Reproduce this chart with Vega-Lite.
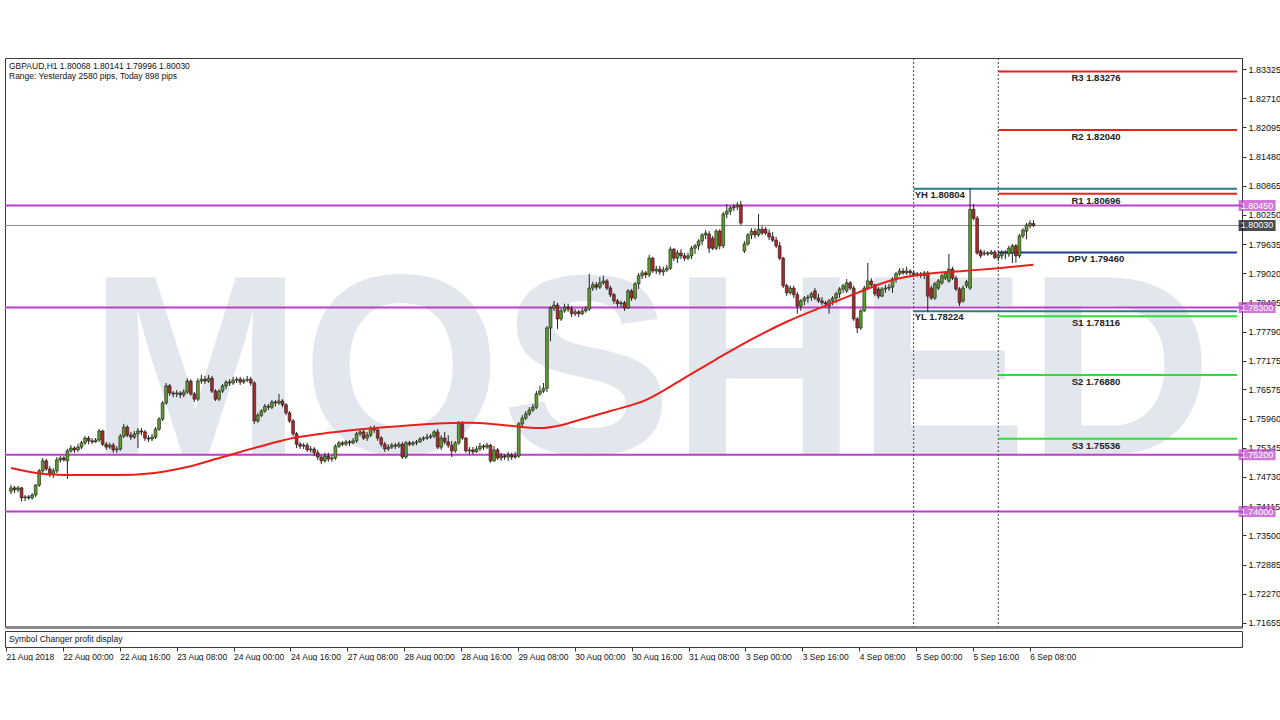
{
"$schema": "https://vega.github.io/schema/vega-lite/v6.json",
"background": "white",
"padding": {"left": 3, "top": 57, "right": 0, "bottom": 0},
"config": {
  "font": "Liberation Sans",
  "view": {"stroke": "#3c3c3c", "strokeWidth": 1},
  "axisX": {"labels": false, "ticks": false, "domainColor": "#8c8c8c", "domainWidth": 3, "grid": false},
  "axisY": {"grid": false, "labelOverlap": false, "labelFontSize": 9, "labelColor": "#111", "tickSize": 4, "tickColor": "#333", "domainColor": "#333", "labelPadding": 2, "labelBound": false, "labelFlush": false}
},
"spacing": 1,
"datasets": {
  "candles": [
{"i":0,"o":1.7443,"h":1.7456,"l":1.7437,"c":1.7450},
{"i":1,"o":1.7450,"h":1.7454,"l":1.7439,"c":1.7446},
{"i":2,"o":1.7446,"h":1.7454,"l":1.7441,"c":1.7450},
{"i":3,"o":1.7450,"h":1.7452,"l":1.7422,"c":1.7429},
{"i":4,"o":1.7429,"h":1.7435,"l":1.7422,"c":1.7431},
{"i":5,"o":1.7431,"h":1.7435,"l":1.7425,"c":1.7429},
{"i":6,"o":1.7429,"h":1.7439,"l":1.7425,"c":1.7435},
{"i":7,"o":1.7435,"h":1.7458,"l":1.7431,"c":1.7456},
{"i":8,"o":1.7456,"h":1.7490,"l":1.7452,"c":1.7486},
{"i":9,"o":1.7486,"h":1.7513,"l":1.7481,"c":1.7507},
{"i":10,"o":1.7507,"h":1.7511,"l":1.7486,"c":1.7490},
{"i":11,"o":1.7490,"h":1.7496,"l":1.7473,"c":1.7479},
{"i":12,"o":1.7479,"h":1.7492,"l":1.7471,"c":1.7486},
{"i":13,"o":1.7486,"h":1.7515,"l":1.7481,"c":1.7509},
{"i":14,"o":1.7509,"h":1.7517,"l":1.7503,"c":1.7513},
{"i":15,"o":1.7513,"h":1.7517,"l":1.7505,"c":1.7509},
{"i":16,"o":1.7507,"h":1.7532,"l":1.7469,"c":1.7528},
{"i":17,"o":1.7528,"h":1.7540,"l":1.7524,"c":1.7534},
{"i":18,"o":1.7534,"h":1.7538,"l":1.7524,"c":1.7530},
{"i":19,"o":1.7530,"h":1.7542,"l":1.7526,"c":1.7536},
{"i":20,"o":1.7536,"h":1.7549,"l":1.7532,"c":1.7545},
{"i":21,"o":1.7545,"h":1.7559,"l":1.7540,"c":1.7555},
{"i":22,"o":1.7555,"h":1.7559,"l":1.7542,"c":1.7549},
{"i":23,"o":1.7549,"h":1.7555,"l":1.7542,"c":1.7547},
{"i":24,"o":1.7547,"h":1.7555,"l":1.7545,"c":1.7551},
{"i":25,"o":1.7551,"h":1.7574,"l":1.7547,"c":1.7570},
{"i":26,"o":1.7570,"h":1.7572,"l":1.7538,"c":1.7542},
{"i":27,"o":1.7542,"h":1.7547,"l":1.7530,"c":1.7536},
{"i":28,"o":1.7536,"h":1.7545,"l":1.7532,"c":1.7540},
{"i":29,"o":1.7540,"h":1.7545,"l":1.7524,"c":1.7530},
{"i":30,"o":1.7530,"h":1.7538,"l":1.7524,"c":1.7532},
{"i":31,"o":1.7532,"h":1.7564,"l":1.7528,"c":1.7559},
{"i":32,"o":1.7559,"h":1.7585,"l":1.7555,"c":1.7578},
{"i":33,"o":1.7578,"h":1.7582,"l":1.7557,"c":1.7561},
{"i":34,"o":1.7561,"h":1.7568,"l":1.7551,"c":1.7557},
{"i":35,"o":1.7557,"h":1.7570,"l":1.7553,"c":1.7564},
{"i":36,"o":1.7564,"h":1.7576,"l":1.7534,"c":1.7570},
{"i":37,"o":1.7570,"h":1.7576,"l":1.7561,"c":1.7568},
{"i":38,"o":1.7568,"h":1.7572,"l":1.7549,"c":1.7555},
{"i":39,"o":1.7555,"h":1.7561,"l":1.7547,"c":1.7553},
{"i":40,"o":1.7553,"h":1.7564,"l":1.7549,"c":1.7557},
{"i":41,"o":1.7557,"h":1.7578,"l":1.7553,"c":1.7574},
{"i":42,"o":1.7574,"h":1.7599,"l":1.7570,"c":1.7595},
{"i":43,"o":1.7595,"h":1.7633,"l":1.7591,"c":1.7629},
{"i":44,"o":1.7629,"h":1.7671,"l":1.7625,"c":1.7665},
{"i":45,"o":1.7665,"h":1.7669,"l":1.7644,"c":1.7650},
{"i":46,"o":1.7650,"h":1.7654,"l":1.7641,"c":1.7648},
{"i":47,"o":1.7648,"h":1.7656,"l":1.7641,"c":1.7650},
{"i":48,"o":1.7650,"h":1.7654,"l":1.7639,"c":1.7646},
{"i":49,"o":1.7646,"h":1.7658,"l":1.7641,"c":1.7652},
{"i":50,"o":1.7652,"h":1.7681,"l":1.7648,"c":1.7675},
{"i":51,"o":1.7675,"h":1.7679,"l":1.7644,"c":1.7648},
{"i":52,"o":1.7648,"h":1.7652,"l":1.7631,"c":1.7637},
{"i":53,"o":1.7637,"h":1.7681,"l":1.7633,"c":1.7675},
{"i":54,"o":1.7675,"h":1.7688,"l":1.7669,"c":1.7679},
{"i":55,"o":1.7679,"h":1.7686,"l":1.7669,"c":1.7675},
{"i":56,"o":1.7675,"h":1.7688,"l":1.7671,"c":1.7681},
{"i":57,"o":1.7681,"h":1.7686,"l":1.7650,"c":1.7654},
{"i":58,"o":1.7654,"h":1.7658,"l":1.7633,"c":1.7637},
{"i":59,"o":1.7637,"h":1.7658,"l":1.7633,"c":1.7654},
{"i":60,"o":1.7654,"h":1.7669,"l":1.7650,"c":1.7665},
{"i":61,"o":1.7665,"h":1.7677,"l":1.7658,"c":1.7673},
{"i":62,"o":1.7673,"h":1.7679,"l":1.7665,"c":1.7671},
{"i":63,"o":1.7671,"h":1.7684,"l":1.7667,"c":1.7677},
{"i":64,"o":1.7677,"h":1.7684,"l":1.7671,"c":1.7679},
{"i":65,"o":1.7679,"h":1.7684,"l":1.7667,"c":1.7673},
{"i":66,"o":1.7673,"h":1.7681,"l":1.7669,"c":1.7677},
{"i":67,"o":1.7677,"h":1.7686,"l":1.7673,"c":1.7679},
{"i":68,"o":1.7679,"h":1.7684,"l":1.7665,"c":1.7671},
{"i":69,"o":1.7671,"h":1.7675,"l":1.7585,"c":1.7591},
{"i":70,"o":1.7591,"h":1.7608,"l":1.7587,"c":1.7603},
{"i":71,"o":1.7603,"h":1.7616,"l":1.7599,"c":1.7612},
{"i":72,"o":1.7612,"h":1.7627,"l":1.7608,"c":1.7622},
{"i":73,"o":1.7622,"h":1.7627,"l":1.7614,"c":1.7620},
{"i":74,"o":1.7620,"h":1.7635,"l":1.7616,"c":1.7631},
{"i":75,"o":1.7631,"h":1.7635,"l":1.7622,"c":1.7629},
{"i":76,"o":1.7629,"h":1.7648,"l":1.7625,"c":1.7633},
{"i":77,"o":1.7633,"h":1.7637,"l":1.7620,"c":1.7625},
{"i":78,"o":1.7625,"h":1.7629,"l":1.7603,"c":1.7608},
{"i":79,"o":1.7608,"h":1.7612,"l":1.7587,"c":1.7591},
{"i":80,"o":1.7591,"h":1.7595,"l":1.7559,"c":1.7564},
{"i":81,"o":1.7564,"h":1.7568,"l":1.7534,"c":1.7542},
{"i":82,"o":1.7542,"h":1.7547,"l":1.7532,"c":1.7538},
{"i":83,"o":1.7538,"h":1.7545,"l":1.7532,"c":1.7540},
{"i":84,"o":1.7540,"h":1.7545,"l":1.7526,"c":1.7530},
{"i":85,"o":1.7530,"h":1.7538,"l":1.7524,"c":1.7532},
{"i":86,"o":1.7532,"h":1.7536,"l":1.7517,"c":1.7524},
{"i":87,"o":1.7524,"h":1.7530,"l":1.7509,"c":1.7515},
{"i":88,"o":1.7515,"h":1.7519,"l":1.7500,"c":1.7507},
{"i":89,"o":1.7507,"h":1.7524,"l":1.7503,"c":1.7517},
{"i":90,"o":1.7517,"h":1.7524,"l":1.7505,"c":1.7511},
{"i":91,"o":1.7511,"h":1.7519,"l":1.7505,"c":1.7513},
{"i":92,"o":1.7513,"h":1.7542,"l":1.7509,"c":1.7538},
{"i":93,"o":1.7538,"h":1.7549,"l":1.7534,"c":1.7545},
{"i":94,"o":1.7545,"h":1.7549,"l":1.7538,"c":1.7542},
{"i":95,"o":1.7542,"h":1.7551,"l":1.7538,"c":1.7547},
{"i":96,"o":1.7547,"h":1.7551,"l":1.7538,"c":1.7545},
{"i":97,"o":1.7545,"h":1.7555,"l":1.7542,"c":1.7549},
{"i":98,"o":1.7549,"h":1.7568,"l":1.7545,"c":1.7564},
{"i":99,"o":1.7564,"h":1.7572,"l":1.7559,"c":1.7568},
{"i":100,"o":1.7568,"h":1.7572,"l":1.7551,"c":1.7555},
{"i":101,"o":1.7555,"h":1.7568,"l":1.7549,"c":1.7561},
{"i":102,"o":1.7561,"h":1.7580,"l":1.7557,"c":1.7576},
{"i":103,"o":1.7576,"h":1.7582,"l":1.7566,"c":1.7572},
{"i":104,"o":1.7572,"h":1.7578,"l":1.7549,"c":1.7555},
{"i":105,"o":1.7555,"h":1.7559,"l":1.7536,"c":1.7542},
{"i":106,"o":1.7542,"h":1.7547,"l":1.7526,"c":1.7532},
{"i":107,"o":1.7532,"h":1.7542,"l":1.7528,"c":1.7536},
{"i":108,"o":1.7536,"h":1.7545,"l":1.7532,"c":1.7540},
{"i":109,"o":1.7540,"h":1.7545,"l":1.7532,"c":1.7538},
{"i":110,"o":1.7538,"h":1.7547,"l":1.7534,"c":1.7542},
{"i":111,"o":1.7542,"h":1.7547,"l":1.7511,"c":1.7515},
{"i":112,"o":1.7515,"h":1.7549,"l":1.7511,"c":1.7545},
{"i":113,"o":1.7545,"h":1.7549,"l":1.7538,"c":1.7542},
{"i":114,"o":1.7542,"h":1.7549,"l":1.7538,"c":1.7545},
{"i":115,"o":1.7545,"h":1.7551,"l":1.7540,"c":1.7547},
{"i":116,"o":1.7547,"h":1.7557,"l":1.7545,"c":1.7553},
{"i":117,"o":1.7553,"h":1.7559,"l":1.7549,"c":1.7555},
{"i":118,"o":1.7555,"h":1.7564,"l":1.7551,"c":1.7557},
{"i":119,"o":1.7557,"h":1.7564,"l":1.7553,"c":1.7559},
{"i":120,"o":1.7559,"h":1.7572,"l":1.7555,"c":1.7568},
{"i":121,"o":1.7568,"h":1.7574,"l":1.7532,"c":1.7536},
{"i":122,"o":1.7536,"h":1.7561,"l":1.7530,"c":1.7555},
{"i":123,"o":1.7555,"h":1.7568,"l":1.7542,"c":1.7547},
{"i":124,"o":1.7547,"h":1.7561,"l":1.7534,"c":1.7540},
{"i":125,"o":1.7540,"h":1.7549,"l":1.7515,"c":1.7528},
{"i":126,"o":1.7528,"h":1.7549,"l":1.7524,"c":1.7545},
{"i":127,"o":1.7545,"h":1.7591,"l":1.7540,"c":1.7587},
{"i":128,"o":1.7587,"h":1.7591,"l":1.7551,"c":1.7555},
{"i":129,"o":1.7555,"h":1.7557,"l":1.7524,"c":1.7528},
{"i":130,"o":1.7528,"h":1.7536,"l":1.7521,"c":1.7530},
{"i":131,"o":1.7530,"h":1.7536,"l":1.7521,"c":1.7526},
{"i":132,"o":1.7526,"h":1.7538,"l":1.7524,"c":1.7532},
{"i":133,"o":1.7532,"h":1.7545,"l":1.7528,"c":1.7538},
{"i":134,"o":1.7538,"h":1.7542,"l":1.7530,"c":1.7536},
{"i":135,"o":1.7536,"h":1.7545,"l":1.7532,"c":1.7540},
{"i":136,"o":1.7540,"h":1.7542,"l":1.7503,"c":1.7507},
{"i":137,"o":1.7507,"h":1.7538,"l":1.7505,"c":1.7530},
{"i":138,"o":1.7530,"h":1.7534,"l":1.7509,"c":1.7513},
{"i":139,"o":1.7513,"h":1.7524,"l":1.7507,"c":1.7517},
{"i":140,"o":1.7517,"h":1.7521,"l":1.7509,"c":1.7515},
{"i":141,"o":1.7515,"h":1.7526,"l":1.7507,"c":1.7519},
{"i":142,"o":1.7519,"h":1.7524,"l":1.7509,"c":1.7515},
{"i":143,"o":1.7515,"h":1.7526,"l":1.7511,"c":1.7517},
{"i":144,"o":1.7517,"h":1.7589,"l":1.7513,"c":1.7585},
{"i":145,"o":1.7585,"h":1.7603,"l":1.7580,"c":1.7597},
{"i":146,"o":1.7597,"h":1.7612,"l":1.7593,"c":1.7606},
{"i":147,"o":1.7606,"h":1.7620,"l":1.7601,"c":1.7614},
{"i":148,"o":1.7614,"h":1.7627,"l":1.7610,"c":1.7620},
{"i":149,"o":1.7620,"h":1.7654,"l":1.7616,"c":1.7648},
{"i":150,"o":1.7648,"h":1.7665,"l":1.7644,"c":1.7654},
{"i":151,"o":1.7654,"h":1.7671,"l":1.7650,"c":1.7660},
{"i":152,"o":1.7660,"h":1.7791,"l":1.7652,"c":1.7787},
{"i":153,"o":1.7787,"h":1.7833,"l":1.7759,"c":1.7829},
{"i":154,"o":1.7829,"h":1.7844,"l":1.7823,"c":1.7835},
{"i":155,"o":1.7835,"h":1.7840,"l":1.7785,"c":1.7806},
{"i":156,"o":1.7806,"h":1.7829,"l":1.7802,"c":1.7823},
{"i":157,"o":1.7823,"h":1.7838,"l":1.7819,"c":1.7831},
{"i":158,"o":1.7831,"h":1.7838,"l":1.7821,"c":1.7827},
{"i":159,"o":1.7827,"h":1.7833,"l":1.7810,"c":1.7817},
{"i":160,"o":1.7817,"h":1.7827,"l":1.7812,"c":1.7821},
{"i":161,"o":1.7821,"h":1.7825,"l":1.7810,"c":1.7817},
{"i":162,"o":1.7817,"h":1.7829,"l":1.7814,"c":1.7823},
{"i":163,"o":1.7823,"h":1.7833,"l":1.7819,"c":1.7827},
{"i":164,"o":1.7827,"h":1.7901,"l":1.7823,"c":1.7871},
{"i":165,"o":1.7871,"h":1.7884,"l":1.7865,"c":1.7878},
{"i":166,"o":1.7878,"h":1.7884,"l":1.7867,"c":1.7873},
{"i":167,"o":1.7873,"h":1.7894,"l":1.7869,"c":1.7882},
{"i":168,"o":1.7882,"h":1.7897,"l":1.7878,"c":1.7886},
{"i":169,"o":1.7886,"h":1.7890,"l":1.7867,"c":1.7871},
{"i":170,"o":1.7871,"h":1.7876,"l":1.7852,"c":1.7857},
{"i":171,"o":1.7857,"h":1.7861,"l":1.7838,"c":1.7844},
{"i":172,"o":1.7844,"h":1.7848,"l":1.7831,"c":1.7838},
{"i":173,"o":1.7838,"h":1.7844,"l":1.7831,"c":1.7840},
{"i":174,"o":1.7840,"h":1.7844,"l":1.7823,"c":1.7829},
{"i":175,"o":1.7829,"h":1.7869,"l":1.7827,"c":1.7865},
{"i":176,"o":1.7865,"h":1.7869,"l":1.7844,"c":1.7850},
{"i":177,"o":1.7850,"h":1.7884,"l":1.7846,"c":1.7880},
{"i":178,"o":1.7880,"h":1.7903,"l":1.7869,"c":1.7897},
{"i":179,"o":1.7897,"h":1.7909,"l":1.7890,"c":1.7903},
{"i":180,"o":1.7903,"h":1.7907,"l":1.7892,"c":1.7899},
{"i":181,"o":1.7899,"h":1.7941,"l":1.7894,"c":1.7934},
{"i":182,"o":1.7934,"h":1.7937,"l":1.7903,"c":1.7907},
{"i":183,"o":1.7907,"h":1.7918,"l":1.7901,"c":1.7911},
{"i":184,"o":1.7911,"h":1.7918,"l":1.7899,"c":1.7905},
{"i":185,"o":1.7905,"h":1.7916,"l":1.7897,"c":1.7909},
{"i":186,"o":1.7909,"h":1.7920,"l":1.7905,"c":1.7913},
{"i":187,"o":1.7913,"h":1.7958,"l":1.7909,"c":1.7953},
{"i":188,"o":1.7953,"h":1.7955,"l":1.7928,"c":1.7934},
{"i":189,"o":1.7934,"h":1.7951,"l":1.7924,"c":1.7945},
{"i":190,"o":1.7945,"h":1.7953,"l":1.7932,"c":1.7939},
{"i":191,"o":1.7939,"h":1.7945,"l":1.7928,"c":1.7934},
{"i":192,"o":1.7934,"h":1.7945,"l":1.7930,"c":1.7939},
{"i":193,"o":1.7939,"h":1.7960,"l":1.7932,"c":1.7955},
{"i":194,"o":1.7955,"h":1.7964,"l":1.7943,"c":1.7960},
{"i":195,"o":1.7960,"h":1.7974,"l":1.7951,"c":1.7970},
{"i":196,"o":1.7970,"h":1.7987,"l":1.7962,"c":1.7983},
{"i":197,"o":1.7983,"h":1.7993,"l":1.7974,"c":1.7987},
{"i":198,"o":1.7985,"h":1.7991,"l":1.7945,"c":1.7955},
{"i":199,"o":1.7976,"h":1.7981,"l":1.7951,"c":1.7955},
{"i":200,"o":1.7955,"h":1.7995,"l":1.7951,"c":1.7991},
{"i":201,"o":1.7991,"h":1.7995,"l":1.7953,"c":1.7960},
{"i":202,"o":1.7960,"h":1.8031,"l":1.7955,"c":1.8027},
{"i":203,"o":1.8027,"h":1.8048,"l":1.8018,"c":1.8033},
{"i":204,"o":1.8033,"h":1.8044,"l":1.8025,"c":1.8040},
{"i":205,"o":1.8040,"h":1.8048,"l":1.8033,"c":1.8042},
{"i":206,"o":1.8042,"h":1.8052,"l":1.8035,"c":1.8046},
{"i":207,"o":1.8046,"h":1.8055,"l":1.8004,"c":1.8008},
{"i":208,"o":1.7949,"h":1.7970,"l":1.7945,"c":1.7964},
{"i":209,"o":1.7964,"h":1.7987,"l":1.7960,"c":1.7983},
{"i":210,"o":1.7983,"h":1.7997,"l":1.7974,"c":1.7991},
{"i":211,"o":1.7991,"h":1.7997,"l":1.7976,"c":1.7983},
{"i":212,"o":1.7983,"h":1.8027,"l":1.7979,"c":1.7995},
{"i":213,"o":1.7995,"h":1.8002,"l":1.7983,"c":1.7987},
{"i":214,"o":1.7995,"h":1.8000,"l":1.7983,"c":1.7987},
{"i":215,"o":1.7987,"h":1.7995,"l":1.7972,"c":1.7979},
{"i":216,"o":1.7979,"h":1.7989,"l":1.7968,"c":1.7972},
{"i":217,"o":1.7972,"h":1.7979,"l":1.7955,"c":1.7960},
{"i":218,"o":1.7960,"h":1.7968,"l":1.7930,"c":1.7934},
{"i":219,"o":1.7934,"h":1.7937,"l":1.7871,"c":1.7876},
{"i":220,"o":1.7876,"h":1.7880,"l":1.7854,"c":1.7861},
{"i":221,"o":1.7861,"h":1.7876,"l":1.7857,"c":1.7871},
{"i":222,"o":1.7871,"h":1.7876,"l":1.7850,"c":1.7857},
{"i":223,"o":1.7857,"h":1.7863,"l":1.7817,"c":1.7833},
{"i":224,"o":1.7833,"h":1.7848,"l":1.7823,"c":1.7844},
{"i":225,"o":1.7844,"h":1.7854,"l":1.7835,"c":1.7850},
{"i":226,"o":1.7850,"h":1.7857,"l":1.7840,"c":1.7852},
{"i":227,"o":1.7852,"h":1.7863,"l":1.7844,"c":1.7859},
{"i":228,"o":1.7865,"h":1.7871,"l":1.7846,"c":1.7850},
{"i":229,"o":1.7850,"h":1.7859,"l":1.7840,"c":1.7844},
{"i":230,"o":1.7844,"h":1.7852,"l":1.7835,"c":1.7840},
{"i":231,"o":1.7840,"h":1.7844,"l":1.7831,"c":1.7838},
{"i":232,"o":1.7833,"h":1.7848,"l":1.7817,"c":1.7844},
{"i":233,"o":1.7844,"h":1.7854,"l":1.7835,"c":1.7850},
{"i":234,"o":1.7850,"h":1.7863,"l":1.7840,"c":1.7859},
{"i":235,"o":1.7859,"h":1.7873,"l":1.7850,"c":1.7869},
{"i":236,"o":1.7869,"h":1.7880,"l":1.7861,"c":1.7876},
{"i":237,"o":1.7865,"h":1.7890,"l":1.7861,"c":1.7882},
{"i":238,"o":1.7882,"h":1.7886,"l":1.7867,"c":1.7871},
{"i":239,"o":1.7871,"h":1.7876,"l":1.7802,"c":1.7806},
{"i":240,"o":1.7806,"h":1.7810,"l":1.7776,"c":1.7787},
{"i":241,"o":1.7787,"h":1.7827,"l":1.7783,"c":1.7823},
{"i":242,"o":1.7823,"h":1.7876,"l":1.7821,"c":1.7871},
{"i":243,"o":1.7871,"h":1.7924,"l":1.7867,"c":1.7886},
{"i":244,"o":1.7886,"h":1.7892,"l":1.7871,"c":1.7878},
{"i":245,"o":1.7878,"h":1.7880,"l":1.7854,"c":1.7859},
{"i":246,"o":1.7869,"h":1.7873,"l":1.7848,"c":1.7854},
{"i":247,"o":1.7854,"h":1.7873,"l":1.7852,"c":1.7869},
{"i":248,"o":1.7869,"h":1.7878,"l":1.7861,"c":1.7871},
{"i":249,"o":1.7871,"h":1.7880,"l":1.7865,"c":1.7873},
{"i":250,"o":1.7873,"h":1.7894,"l":1.7861,"c":1.7890},
{"i":251,"o":1.7890,"h":1.7905,"l":1.7882,"c":1.7901},
{"i":252,"o":1.7901,"h":1.7913,"l":1.7897,"c":1.7907},
{"i":253,"o":1.7907,"h":1.7913,"l":1.7899,"c":1.7903},
{"i":254,"o":1.7903,"h":1.7916,"l":1.7899,"c":1.7907},
{"i":255,"o":1.7907,"h":1.7911,"l":1.7897,"c":1.7903},
{"i":256,"o":1.7903,"h":1.7907,"l":1.7894,"c":1.7899},
{"i":257,"o":1.7899,"h":1.7905,"l":1.7894,"c":1.7901},
{"i":258,"o":1.7901,"h":1.7905,"l":1.7892,"c":1.7897},
{"i":259,"o":1.7897,"h":1.7907,"l":1.7890,"c":1.7903},
{"i":260,"o":1.7903,"h":1.7907,"l":1.78224,"c":1.7854},
{"i":261,"o":1.7871,"h":1.7876,"l":1.7846,"c":1.7850},
{"i":262,"o":1.7850,"h":1.7884,"l":1.7846,"c":1.7880},
{"i":263,"o":1.7871,"h":1.7890,"l":1.7867,"c":1.7886},
{"i":264,"o":1.7882,"h":1.7901,"l":1.7878,"c":1.7897},
{"i":265,"o":1.7892,"h":1.7907,"l":1.7888,"c":1.7903},
{"i":266,"o":1.7886,"h":1.7943,"l":1.7882,"c":1.7911},
{"i":267,"o":1.7911,"h":1.7916,"l":1.7888,"c":1.7892},
{"i":268,"o":1.7892,"h":1.7897,"l":1.7865,"c":1.7869},
{"i":269,"o":1.7869,"h":1.7873,"l":1.7833,"c":1.7840},
{"i":270,"o":1.7844,"h":1.7876,"l":1.7840,"c":1.7871},
{"i":271,"o":1.7876,"h":1.7888,"l":1.7871,"c":1.7884},
{"i":272,"o":1.7871,"h":1.80804,"l":1.7867,"c":1.8037},
{"i":273,"o":1.8037,"h":1.8048,"l":1.8014,"c":1.8018},
{"i":274,"o":1.8018,"h":1.8023,"l":1.7941,"c":1.7945},
{"i":275,"o":1.7949,"h":1.7953,"l":1.7934,"c":1.7939},
{"i":276,"o":1.7943,"h":1.7951,"l":1.7939,"c":1.7945},
{"i":277,"o":1.7945,"h":1.7949,"l":1.7939,"c":1.7943},
{"i":278,"o":1.7943,"h":1.7951,"l":1.7941,"c":1.7947},
{"i":279,"o":1.7947,"h":1.7951,"l":1.7932,"c":1.7935},
{"i":280,"o":1.7935,"h":1.7949,"l":1.7928,"c":1.7941},
{"i":281,"o":1.7939,"h":1.7951,"l":1.7932,"c":1.7945},
{"i":282,"o":1.7945,"h":1.7951,"l":1.7932,"c":1.7947},
{"i":283,"o":1.7943,"h":1.7960,"l":1.7937,"c":1.7955},
{"i":284,"o":1.7945,"h":1.7964,"l":1.7924,"c":1.7960},
{"i":285,"o":1.7960,"h":1.7964,"l":1.79243,"c":1.7939},
{"i":286,"o":1.7939,"h":1.7985,"l":1.7934,"c":1.7981},
{"i":287,"o":1.7981,"h":1.7997,"l":1.7976,"c":1.7993},
{"i":288,"o":1.7991,"h":1.8008,"l":1.7974,"c":1.8004},
{"i":289,"o":1.8002,"h":1.8014,"l":1.7997,"c":1.8008},
{"i":290,"o":1.80068,"h":1.80141,"l":1.79996,"c":1.80030}
  ],
  "ma": [
{"i":0,"v":1.7492},{"i":10,"v":1.7479},{"i":20,"v":1.7477},{"i":30,"v":1.7477},{"i":40,"v":1.7481},
{"i":50,"v":1.7494},{"i":60,"v":1.7515},{"i":70,"v":1.7536},{"i":80,"v":1.7555},{"i":90,"v":1.7566},
{"i":100,"v":1.7574},{"i":110,"v":1.7580},{"i":120,"v":1.7585},{"i":130,"v":1.7587},{"i":140,"v":1.7582},
{"i":150,"v":1.7576},{"i":156,"v":1.7582},{"i":162,"v":1.7595},{"i":170,"v":1.7612},{"i":180,"v":1.7635},
{"i":190,"v":1.7677},{"i":200,"v":1.7721},{"i":210,"v":1.7763},{"i":220,"v":1.7800},{"i":230,"v":1.7831},
{"i":240,"v":1.7861},{"i":250,"v":1.7888},{"i":260,"v":1.7901},{"i":270,"v":1.7907},{"i":280,"v":1.7913},
{"i":290,"v":1.7920}
  ],
  "levels": [
{"level":1.8045,"kind":"line"},
{"level":1.783,"kind":"line"},
{"level":1.752,"kind":"line"},
{"level":1.74,"kind":"line"},
{"level":1.8003,"kind":"bid"}
  ],
  "pivots": [
{"name":"R3","level":1.83276,"from":280,"kind":"R","label":"R3 1.83276"},
{"name":"R2","level":1.8204,"from":280,"kind":"R","label":"R2 1.82040"},
{"name":"R1","level":1.80696,"from":280,"kind":"R","label":"R1 1.80696"},
{"name":"DPV","level":1.7946,"from":280,"kind":"P","label":"DPV 1.79460"},
{"name":"S1","level":1.78116,"from":280,"kind":"S","label":"S1 1.78116"},
{"name":"S2","level":1.7688,"from":280,"kind":"S","label":"S2 1.76880"},
{"name":"S3","level":1.75536,"from":280,"kind":"S","label":"S3 1.75536"},
{"name":"YH","level":1.80804,"from":256,"kind":"Y","label":"YH 1.80804"},
{"name":"YL","level":1.78224,"from":256,"kind":"Y","label":"YL 1.78224"}
  ],
  "days": [{"i":256,"day":"5 Sep"},{"i":280,"day":"6 Sep"}]
},
"vconcat": [
  {
    "width": 1237,
    "height": 569,
    "title": {"text": "GBPAUD,H1  1.80068 1.80141 1.79996 1.80030", "subtitle": "Range: Yesterday 2580 pips, Today 898 pips", "anchor": "start", "frame": "group", "orient": "top", "offset": -23, "dx": 4, "font": "Liberation Sans", "fontSize": 8.5, "fontWeight": "normal", "color": "#111", "subtitleFont": "Liberation Sans", "subtitleFontSize": 8.5, "subtitleColor": "#111", "subtitlePadding": 2},
    "resolve": {"scale": {"color": "independent", "strokeWidth": "independent"}},
    "layer": [
      {
        "data": {"values": [{"w": "MOSHED"}]},
        "mark": {"type": "text", "font": "Liberation Sans", "fontWeight": "bold", "fontSize": 256, "color": "#E2E6ED", "align": "center", "baseline": "alphabetic"},
        "encoding": {
          "x": {"datum": 181.4, "type": "quantitative", "scale": {"domain": [-0.28, 347.7], "nice": false, "zero": false}, "title": null},
          "y": {"datum": 1.7522, "type": "quantitative", "scale": {"domain": [1.71569, 1.83558], "nice": false, "zero": false}, "title": null,
                "axis": {"orient": "right", "values": [1.71655, 1.7227, 1.72885, 1.735, 1.74115, 1.7473, 1.75345, 1.7596, 1.76575, 1.77175, 1.7779, 1.78405, 1.7902, 1.79635, 1.8025, 1.80865, 1.8148, 1.82095, 1.8271, 1.83325], "format": ".5f", "title": null, "grid": false, "labelOverlap": false, "tickCount": 40}},
          "text": {"field": "w"}
        }
      },
      {
        "data": {"name": "levels"},
        "mark": {"type": "rule"},
        "encoding": {
          "y": {"field": "level", "type": "quantitative", "title": null, "axis": {"orient": "right", "labelOverlap": false}},
          "color": {"field": "kind", "type": "nominal", "scale": {"domain": ["line", "bid"], "range": ["#BE3FCB", "#8C8C8C"]}, "legend": null},
          "strokeWidth": {"field": "kind", "type": "nominal", "scale": {"domain": ["line", "bid"], "range": [2, 1]}, "legend": null}
        }
      },
      {
        "data": {"name": "days"},
        "mark": {"type": "rule", "color": "#444", "strokeDash": [2, 2], "strokeWidth": 1},
        "encoding": {
          "x": {"field": "i", "type": "quantitative", "title": null}
        }
      },
      {
        "data": {"name": "pivots"},
        "mark": {"type": "rule", "strokeWidth": 2},
        "encoding": {
          "x": {"field": "from", "type": "quantitative", "title": null},
          "x2": {"datum": 347.7},
          "y": {"field": "level", "type": "quantitative", "title": null, "axis": {"orient": "right", "labelOverlap": false}},
          "color": {"field": "kind", "type": "nominal", "scale": {"domain": ["R", "P", "S", "Y"], "range": ["#E8231F", "#1F36A8", "#2EE02E", "#2B7C8C"]}, "legend": null}
        }
      },
      {
        "data": {"name": "candles"},
        "mark": {"type": "rule", "color": "#222", "strokeWidth": 1},
        "encoding": {
          "x": {"field": "i", "type": "quantitative", "title": null},
          "y": {"field": "l", "type": "quantitative", "title": null, "axis": {"orient": "right", "labelOverlap": false}},
          "y2": {"field": "h"}
        }
      },
      {
        "data": {"name": "candles"},
        "mark": {"type": "bar", "width": 2.8, "stroke": "#151515", "strokeWidth": 0.6},
        "encoding": {
          "x": {"field": "i", "type": "quantitative", "title": null},
          "y": {"field": "o", "type": "quantitative", "title": null, "axis": {"orient": "right", "labelOverlap": false}},
          "y2": {"field": "c"},
          "fill": {"condition": {"test": "datum.c >= datum.o", "value": "#5E9E2A"}, "value": "#B3262A"}
        }
      },
      {
        "data": {"name": "ma"},
        "mark": {"type": "line", "color": "#E8201C", "strokeWidth": 2, "interpolate": "monotone"},
        "encoding": {
          "x": {"field": "i", "type": "quantitative", "title": null},
          "y": {"field": "v", "type": "quantitative", "title": null, "axis": {"orient": "right", "labelOverlap": false}}
        }
      },
      {
        "data": {"name": "pivots"},
        "transform": [{"filter": "datum.kind != 'Y'"}],
        "mark": {"type": "text", "fontWeight": "bold", "fontSize": 9.5, "color": "#222", "align": "center", "baseline": "middle", "dy": 7},
        "encoding": {
          "x": {"datum": 307.7, "type": "quantitative", "title": null},
          "y": {"field": "level", "type": "quantitative", "title": null, "axis": {"orient": "right", "labelOverlap": false}},
          "text": {"field": "label"}
        }
      },
      {
        "data": {"name": "pivots"},
        "transform": [{"filter": "datum.kind == 'Y'"}],
        "mark": {"type": "text", "fontWeight": "bold", "fontSize": 9.5, "color": "#222", "align": "left", "baseline": "middle", "dy": 6, "dx": 1},
        "encoding": {
          "x": {"field": "from", "type": "quantitative", "title": null},
          "y": {"field": "level", "type": "quantitative", "title": null, "axis": {"orient": "right", "labelOverlap": false}},
          "text": {"field": "label"}
        }
      },
      {
        "data": {"name": "levels"},
        "mark": {"type": "tick", "orient": "horizontal", "size": 37, "thickness": 11},
        "encoding": {
          "x": {"datum": 353.4, "type": "quantitative", "title": null},
          "y": {"field": "level", "type": "quantitative", "title": null, "axis": {"orient": "right", "labelOverlap": false}},
          "color": {"field": "kind", "type": "nominal", "scale": {"domain": ["line", "bid"], "range": ["#BE3FCB", "#000000"]}, "legend": null}
        }
      },
      {
        "data": {"name": "levels"},
        "mark": {"type": "text", "color": "white", "fontSize": 9, "align": "center", "baseline": "middle"},
        "encoding": {
          "x": {"datum": 353.4, "type": "quantitative", "title": null},
          "y": {"field": "level", "type": "quantitative", "title": null, "axis": {"orient": "right", "labelOverlap": false}},
          "text": {"field": "level", "type": "quantitative", "format": ".5f"}
        }
      }
    ]
  },
  {
    "width": 1237,
    "height": 16,
    "data": {"values": [{"t": "Symbol Changer profit display"}]},
    "mark": {"type": "text", "align": "left", "baseline": "middle", "dx": 4, "fontSize": 8.5, "color": "#111"},
    "encoding": {
      "x": {"datum": -0.28, "type": "quantitative", "scale": {"domain": [-0.28, 347.7], "nice": false, "zero": false},
            "axis": {"values": [0, 16, 32, 48, 64, 80, 96, 112, 128, 144, 160, 176, 192, 208, 224, 240, 256, 272, 288], "labelExpr": "['21 Aug 2018','22 Aug 00:00','22 Aug 16:00','23 Aug 08:00','24 Aug 00:00','24 Aug 16:00','27 Aug 08:00','28 Aug 00:00','28 Aug 16:00','29 Aug 08:00','30 Aug 00:00','30 Aug 16:00','31 Aug 08:00','3 Sep 00:00','3 Sep 16:00','4 Sep 08:00','5 Sep 00:00','5 Sep 16:00','6 Sep 08:00'][round(datum.value/16)]", "labels": true, "ticks": true, "tickSize": 4, "tickColor": "#333", "domain": false, "labelAlign": "left", "labelBaseline": "top", "labelPadding": 1, "labelFontSize": 8.5, "labelColor": "#111", "title": null, "labelOverlap": false, "labelFlush": false, "labelBound": false}},
      "text": {"field": "t"}
    }
  }
]
}
